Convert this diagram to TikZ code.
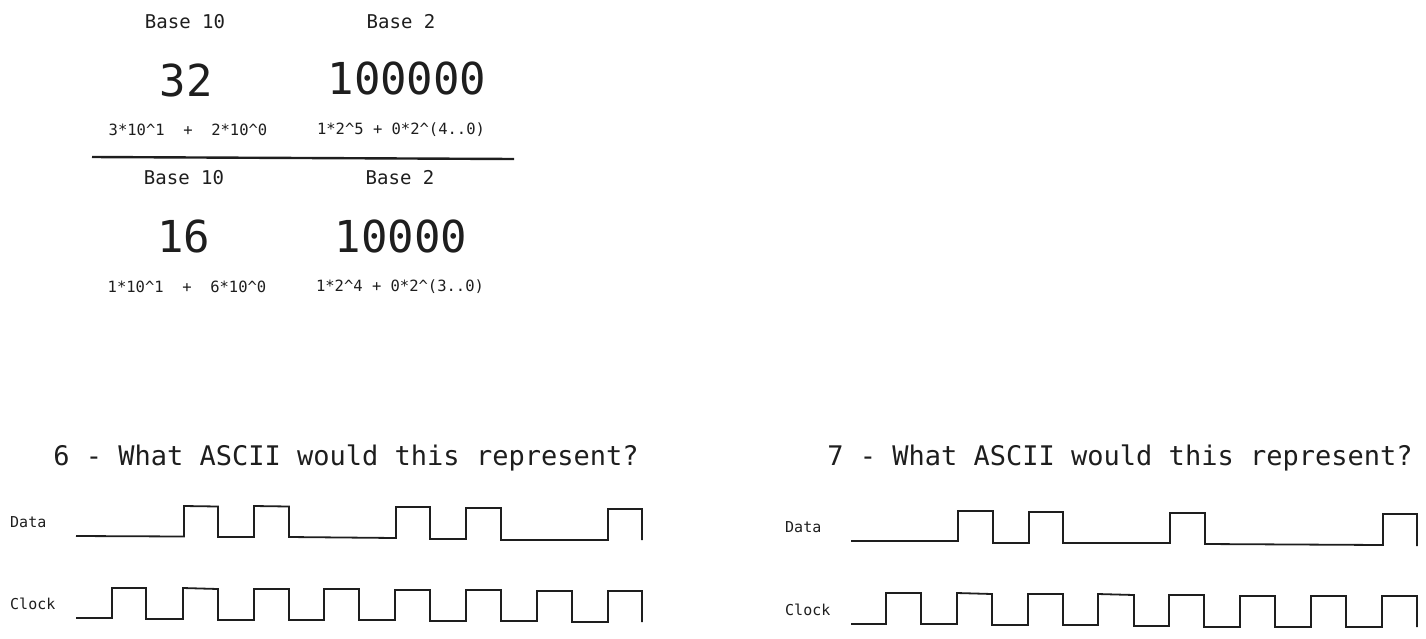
\documentclass[tikz,border=0pt]{standalone}
\usepackage{fontspec}
\setmonofont{DejaVu Sans Mono}
\definecolor{ink}{HTML}{1E1E1E}
\begin{document}
\begin{tikzpicture}[x=1pt,y=-1pt,
  txt/.style={text=ink,inner sep=0pt,font=\ttfamily\fontsize{#1}{#1}\selectfont},
  wave/.style={draw=ink,line width=1.8pt,line join=miter},
  lbl/.style={text=ink,inner sep=0pt,anchor=west,font=\ttfamily\fontsize{15}{15}\selectfont}]
\useasboundingbox (0,0) rectangle (1426,638);
% top block
\node[txt=19] (b10a) at (185,22) {Base 10};
\node[txt=19] (b2a) at (401,22) {Base 2};
\node[txt=44] (n32) at (186,80) {32};
\node[txt=44] (n100000) at (407,78) {100000};
\node[txt=15.5] (e1) at (188,130) {3*10\^{}1~~+~~2*10\^{}0};
\node[txt=15.5] (e2) at (401,130) {1*2\^{}5 + 0*2\^{}(4..0)};
\coordinate (L1) at (92,157);
\coordinate (L2) at (514,159);
\draw[draw=ink,line width=2.4pt] (L1) -- (L2);
\node[txt=19] (b10b) at (184,178) {Base 10};
\node[txt=19] (b2b) at (400,178) {Base 2};
\node[txt=44] (n16) at (184,236) {16};
\node[txt=44] (n10000) at (401,236) {10000};
\node[txt=15.5] (e3) at (187,287) {1*10\^{}1~~+~~6*10\^{}0};
\node[txt=15.5] (e4) at (400,287) {1*2\^{}4 + 0*2\^{}(3..0)};
% titles
\node[txt=27] (t6) at (346,458) {6 - What ASCII would this represent?};
\node[txt=27] (t7) at (1120,458) {7 - What ASCII would this represent?};
% labels
\node[lbl] (d1) at (10,522) {Data};
\node[lbl] (c1) at (10,604) {Clock};
\node[lbl] (d2) at (785,527) {Data};
\node[lbl] (c2) at (785,610) {Clock};
% left data
\draw[wave] (76,536) -- (184,536.5) -- (184,506) -- (218,506.5) -- (218,537) -- (254,537) -- (254,506) -- (289,506.5) -- (289,537) -- (396,538) -- (396,507) -- (430,507) -- (430,539) -- (466,539) -- (466,508) -- (501,508) -- (501,540) -- (608,540) -- (608,509) -- (642,509) -- (642,540);
% left clock
\draw[wave] (76,618) -- (112,618) -- (112,588) -- (146,588) -- (146,619) -- (183,619) -- (183,588) -- (218,589) -- (218,620) -- (254,620) -- (254,589) -- (289,589) -- (289,620) -- (324,620) -- (324,589) -- (359,589) -- (359,620) -- (395,620) -- (395,590) -- (430,590) -- (430,621) -- (466,621) -- (466,590) -- (501,590) -- (501,621) -- (537,621) -- (537,591) -- (572,591) -- (572,622) -- (608,622) -- (608,591) -- (642,591) -- (642,622);
% right data
\draw[wave] (851,541) -- (958,541) -- (958,511) -- (993,511) -- (993,543) -- (1029,543) -- (1029,512) -- (1063,512) -- (1063,543) -- (1170,543) -- (1170,513) -- (1205,513) -- (1205,544) -- (1383,545) -- (1383,514) -- (1417,514) -- (1417,546);
% right clock
\draw[wave] (851,624) -- (886,624) -- (886,593) -- (921,593) -- (921,624) -- (957,624) -- (957,593) -- (992,594) -- (992,625) -- (1028,625) -- (1028,594) -- (1063,594) -- (1063,625) -- (1098,625) -- (1098,594) -- (1134,595) -- (1134,626) -- (1169,626) -- (1169,595) -- (1204,595) -- (1204,627) -- (1240,627) -- (1240,596) -- (1275,596) -- (1275,627) -- (1311,627) -- (1311,596) -- (1346,596) -- (1346,627) -- (1382,627) -- (1382,596) -- (1417,596) -- (1417,627);
\end{tikzpicture}
\end{document}
